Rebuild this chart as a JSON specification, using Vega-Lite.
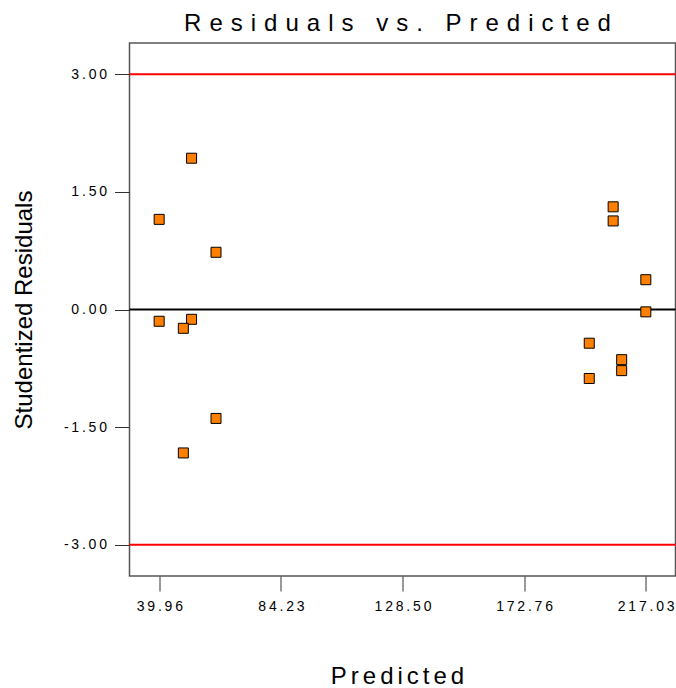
{
  "$schema": "https://vega.github.io/schema/vega-lite/v6.json",
  "autosize": {"type": "none"},
  "width": 546,
  "height": 533,
  "padding": {"left": 129.5, "top": 43, "right": 0.5, "bottom": 112},
  "background": "white",
  "config": {
    "font": "Liberation Sans",
    "view": {"stroke": "#555555", "strokeWidth": 1.5},
    "axis": {"grid": false, "domain": false, "tickColor": "#333333", "tickSize": 15, "tickWidth": 1, "labelFont": "Liberation Sans", "labelFontSize": 14, "labelColor": "#000000", "labelPadding": 8, "titleFont": "Liberation Sans", "titleFontSize": 24, "titleFontWeight": "normal", "titleColor": "#000000"}
  },
  "title": {
    "text": "R\u2004e\u2004s\u2004i\u2004d\u2004u\u2004a\u2004l\u2004s\u2004 \u2004v\u2004s\u2004.\u2004 \u2004P\u2004r\u2004e\u2004d\u2004i\u2004c\u2004t\u2004e\u2004d",
    "font": "Liberation Sans",
    "fontSize": 24,
    "fontWeight": "normal",
    "color": "#000000",
    "frame": "group",
    "anchor": "middle",
    "offset": 7,
    "dx": -5
  },
  "layer": [
    {
      "data": {"values": [{"ref": 3}, {"ref": -3}]},
      "mark": {"type": "rule", "color": "#FF0000", "strokeWidth": 2},
      "encoding": {"y": {"field": "ref", "type": "quantitative", "scale": {"domain": [-3.4, 3.4], "nice": false, "zero": false}}}
    },
    {
      "data": {"values": [{"ref": 0}]},
      "mark": {"type": "rule", "color": "#000000", "strokeWidth": 2},
      "encoding": {"y": {"field": "ref", "type": "quantitative"}}
    },
    {
      "data": {"values": [
        {"predicted": 51.7, "residual": 1.93},
        {"predicted": 39.9, "residual": 1.15},
        {"predicted": 60.6, "residual": 0.73},
        {"predicted": 39.9, "residual": -0.15},
        {"predicted": 51.7, "residual": -0.125},
        {"predicted": 48.7, "residual": -0.24},
        {"predicted": 60.6, "residual": -1.39},
        {"predicted": 48.7, "residual": -1.83},
        {"predicted": 205.2, "residual": 1.31},
        {"predicted": 205.2, "residual": 1.13},
        {"predicted": 217.1, "residual": 0.38},
        {"predicted": 217.1, "residual": -0.03},
        {"predicted": 196.5, "residual": -0.43},
        {"predicted": 208.3, "residual": -0.64},
        {"predicted": 208.3, "residual": -0.78},
        {"predicted": 196.5, "residual": -0.88}
      ]},
      "mark": {"type": "point", "shape": "square", "filled": true, "size": 100, "fill": "#FF8000", "stroke": "#000000", "strokeWidth": 1, "opacity": 1},
      "encoding": {
        "x": {"field": "predicted", "type": "quantitative", "title": "P\u2006r\u2006e\u2006d\u2006i\u2006c\u2006t\u2006e\u2006d",
          "scale": {"domain": [29.1, 227.9], "nice": false, "zero": false},
          "axis": {"values": [39.96, 84.23, 128.5, 172.76, 217.03], "labelExpr": "join(split(format(datum.value, '.2f'), ''), '\u2009')", "titlePadding": 51, "titleX": 267.5}},
        "y": {"field": "residual", "type": "quantitative", "title": "Studentized Residuals",
          "axis": {"values": [-3, -1.5, 0, 1.5, 3], "labelExpr": "join(split(replace(format(datum.value, '.2f'), '\u2212', '-'), ''), '\u2009')", "titlePadding": 27}}
      }
    }
  ]
}
